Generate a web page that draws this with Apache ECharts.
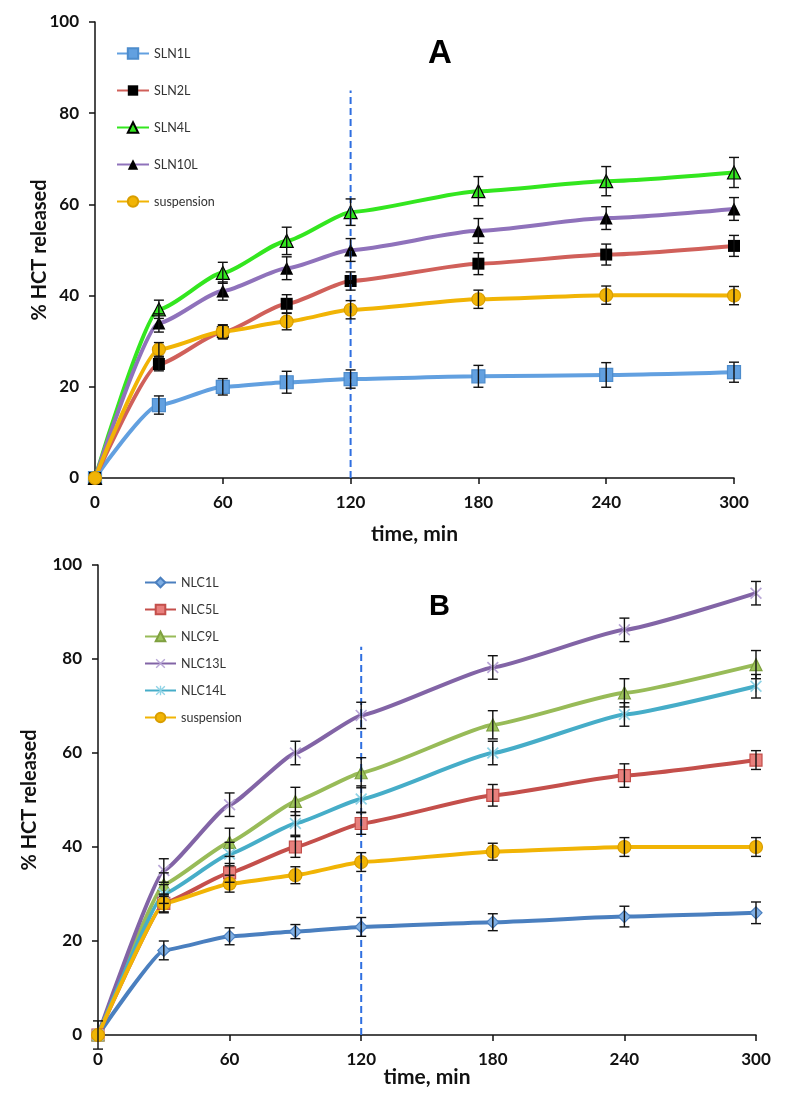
<!DOCTYPE html>
<html>
<head>
<meta charset="utf-8">
<script src="https://cdn.jsdelivr.net/npm/echarts@6/dist/echarts.min.js"></script>
<style>html,body{margin:0;padding:0;background:#fff}#c{width:788px;height:1105px}</style>
</head>
<body>
<div id="c"></div>
<script>
// ---- data ----
const times = [0, 30, 60, 90, 120, 180, 240, 300];
const xTicks = [0, 60, 120, 180, 240, 300];

// Panel A
const namesA = ['SLN1L', 'SLN2L', 'SLN4L', 'SLN10L', 'suspension'];
const SLN1L = [0, 16, 20, 21, 21.7, 22.3, 22.6, 23.2];
const SLN2L = [0, 25, 32, 38.2, 43.2, 47, 49, 50.9];
const SLN4L = [0, 37, 45, 52, 58.3, 62.9, 65.1, 67];
const SLN10L = [0, 34, 41, 46, 50, 54.2, 57, 59];
const suspA = [0, 28.2, 32.1, 34.3, 36.9, 39.2, 40.1, 40];
const errSLN1L = [0, 2, 1.8, 2.4, 2, 2.4, 2.7, 2.2];
const errSLN2L = [0, 1.5, 1.5, 2, 2, 2.4, 2.3, 2.3];
const errSLN4L = [0, 2, 2.3, 3, 2.9, 3.2, 3.2, 3.3];
const errSLN10L = [0, 2, 2, 2.5, 2.5, 2.7, 2.5, 2.5];
const errSuspA = [0, 1.5, 1.5, 1.8, 2, 2, 2, 2];

// Panel B
const namesB = ['NLC1L', 'NLC5L', 'NLC9L', 'NLC13L', 'NLC14L', 'suspension'];
const NLC1L = [0, 18, 21, 22, 23, 24, 25.2, 26];
const NLC5L = [0, 28, 34.5, 40, 45, 51, 55.2, 58.5];
const NLC9L = [0, 32, 41, 49.7, 55.8, 66, 72.8, 78.8];
const NLC13L = [0, 35, 49, 60, 68, 78.2, 86.2, 94];
const NLC14L = [0, 30, 38.5, 45, 50.2, 60, 68.2, 74.2];
const suspB = [0, 28, 32.2, 34, 36.8, 39, 40, 40];
const errNLC1L = [0, 2, 1.8, 1.5, 2, 1.8, 2.2, 2.3];
const errNLC5L = [0, 2, 2, 2.2, 2.3, 2.3, 2.5, 2];
const errNLC9L = [0, 2.5, 3, 3, 3.2, 3, 3, 3];
const errNLC13L = [3, 2.5, 2.5, 2.5, 2.8, 2.5, 2.5, 2.5];
const errNLC14L = [0, 2, 2.5, 2.5, 2.8, 2.5, 2.5, 2.5];
const errSuspB = [0, 1.8, 1.8, 1.8, 2, 1.8, 2, 2];

const cutoffX = 120;
const cutoffTopA = 85;
const cutoffTopB = 82.6;

// ---- helpers ----
const pts = (ys) => times.map((t, i) => [t, ys[i]]);
const errPts = (ys, es) => times.map((t, i) => [t, ys[i], es[i]]);

const FONT = 'Lato';
const X_SHAPE = 'path://M0,1L1,0L5,4L9,0L10,1L6,5L10,9L9,10L5,6L1,10L0,9L4,5Z';
const STAR_SHAPE = 'path://M0,1L1,0L5,4L9,0L10,1L6,5L10,9L9,10L5,6L1,10L0,9L4,5Z M4.3,0L5.7,0L5.7,10L4.3,10Z';

function lineSeries(name, ys, idx, color, symbol, symColor, symBorder, size, smooth) {
  return {
    type: 'line', name: name, data: pts(ys),
    xAxisIndex: idx, yAxisIndex: idx,
    smooth: smooth, smoothMonotone: 'x', symbol: symbol, symbolSize: size,
    lineStyle: { color: color, width: 4 },
    itemStyle: { color: symColor, borderColor: symBorder, borderWidth: symBorder ? 1.2 : 0 },
    z: 3
  };
}
function errSeries(ys, es, idx) {
  return {
    type: 'custom', xAxisIndex: idx, yAxisIndex: idx,
    data: errPts(ys, es), encode: { x: 0, y: 1 }, z: 5, silent: true,
    renderItem: function (params, api) {
      const x = api.value(0), y = api.value(1), e = api.value(2);
      if (!e) return null;
      const t = api.coord([x, y + e]);
      const b = api.coord([x, y - e]);
      const hw = 5;
      const st = { stroke: '#111', lineWidth: 1.4 };
      return {
        type: 'group', children: [
          { type: 'line', shape: { x1: t[0], y1: t[1], x2: b[0], y2: b[1] }, style: st },
          { type: 'line', shape: { x1: t[0] - hw, y1: t[1], x2: t[0] + hw, y2: t[1] }, style: st },
          { type: 'line', shape: { x1: b[0] - hw, y1: b[1], x2: b[0] + hw, y2: b[1] }, style: st }
        ]
      };
    }
  };
}
function cutoffSeries(idx, top) {
  return {
    type: 'line', xAxisIndex: idx, yAxisIndex: idx, data: [[cutoffX, 0], [cutoffX, top]],
    symbol: 'none', silent: true, z: 4,
    lineStyle: { color: '#2f6fe0', width: 2, type: [7, 4] }
  };
}
function xAx(idx, gap) {
  return {
    type: 'value', gridIndex: idx, min: 0, max: 300, interval: 60,
    name: 'time, min', nameLocation: 'middle', nameGap: gap, nameMoveOverlap: false,
    nameTextStyle: { fontFamily: FONT, fontWeight: 'bold', fontSize: 21, color: '#111' },
    axisLine: { show: true, lineStyle: { color: '#111', width: 1.5 } },
    axisTick: { show: true, length: 6, lineStyle: { color: '#111', width: 1.5 } },
    axisLabel: { margin: 16, fontFamily: FONT, fontWeight: 'bold', fontSize: 17, color: '#111',
      formatter: (v) => xTicks.indexOf(v) >= 0 ? String(v) : '' },
    splitLine: { show: false }
  };
}
function yAx(idx, gap) {
  return {
    type: 'value', gridIndex: idx, min: 0, max: 100, interval: 20,
    name: '% HCT released', nameLocation: 'middle', nameGap: gap, nameRotate: 90, nameMoveOverlap: false,
    nameTextStyle: { fontFamily: FONT, fontWeight: 'bold', fontSize: 20, color: '#111' },
    axisLine: { show: true, lineStyle: { color: '#111', width: 1.5 } },
    axisTick: { show: true, length: 6, lineStyle: { color: '#111', width: 1.5 } },
    axisLabel: { margin: 16, fontFamily: FONT, fontWeight: 'bold', fontSize: 17, color: '#111' },
    splitLine: { show: false }
  };
}

const colA = { SLN1L: '#62a0e0', SLN2L: '#d0605a', SLN4L: '#33e61f', SLN10L: '#8f72bb', susp: '#f1b405' };
const colB = { NLC1L: '#4a7fbf', NLC5L: '#c44f4b', NLC9L: '#98bb58', NLC13L: '#8264a6', NLC14L: '#46adc8', susp: '#f1b405' };
const SA = 0.2, SB = 0.12;

const option = {
  animation: false,
  backgroundColor: '#fff',
  title: [
    { text: 'A', left: 423, top: 32, textStyle: { fontFamily: 'Liberation Sans', fontWeight: 'bold', fontSize: 33, color: '#000' } },
    { text: 'B', left: 424, top: 587, textStyle: { fontFamily: 'Liberation Sans', fontWeight: 'bold', fontSize: 29, color: '#000' } }
  ],
  legend: [
    { data: namesA, orient: 'vertical', left: 111, top: 42, itemWidth: 32, itemHeight: 13, itemGap: 24,
      textStyle: { fontFamily: FONT, fontSize: 12.5, color: '#333' }, selectedMode: false },
    { data: namesB.map(n => ({ name: n })), orient: 'vertical', left: 139, top: 571, itemWidth: 31, itemHeight: 12, itemGap: 14,
      textStyle: { fontFamily: FONT, fontSize: 12.5, color: '#333' }, selectedMode: false }
  ],
  grid: [
    { left: 95, top: 22, width: 639, height: 456 },
    { left: 98, top: 565, width: 658, height: 470 }
  ],
  xAxis: [xAx(0, 46), xAx(1, 32)],
  yAxis: [yAx(0, 45), yAx(1, 58)],
  series: [
    cutoffSeries(0, cutoffTopA),
    lineSeries('SLN1L', SLN1L, 0, colA.SLN1L, 'rect', colA.SLN1L, '#4d8ccc', 13, SA),
    lineSeries('SLN2L', SLN2L, 0, colA.SLN2L, 'rect', '#000', null, 12, SA),
    lineSeries('SLN4L', SLN4L, 0, colA.SLN4L, 'triangle', colA.SLN4L, '#000', 13, SA),
    lineSeries('SLN10L', SLN10L, 0, colA.SLN10L, 'triangle', '#000', null, 13, SA),
    lineSeries('suspension', suspA, 0, colA.susp, 'circle', colA.susp, '#d99e00', 13, SA),
    errSeries(SLN1L, errSLN1L, 0),
    errSeries(SLN2L, errSLN2L, 0),
    errSeries(SLN4L, errSLN4L, 0),
    errSeries(SLN10L, errSLN10L, 0),
    errSeries(suspA, errSuspA, 0),

    cutoffSeries(1, cutoffTopB),
    lineSeries('NLC1L', NLC1L, 1, colB.NLC1L, 'diamond', '#7eaee3', '#4a7fbf', 12, SB),
    lineSeries('NLC5L', NLC5L, 1, colB.NLC5L, 'rect', '#e8807d', '#c44f4b', 12, SB),
    lineSeries('NLC9L', NLC9L, 1, colB.NLC9L, 'triangle', '#9dc45c', '#7fa040', 12, SB),
    lineSeries('NLC13L', NLC13L, 1, colB.NLC13L, X_SHAPE, '#b8a6d6', null, 12, SB),
    lineSeries('NLC14L', NLC14L, 1, colB.NLC14L, STAR_SHAPE, '#8fd3e6', null, 12, SB),
    lineSeries('suspension', suspB, 1, colB.susp, 'circle', colB.susp, '#d99e00', 13, SB),
    errSeries(NLC1L, errNLC1L, 1),
    errSeries(NLC5L, errNLC5L, 1),
    errSeries(NLC9L, errNLC9L, 1),
    errSeries(NLC13L, errNLC13L, 1),
    errSeries(NLC14L, errNLC14L, 1),
    errSeries(suspB, errSuspB, 1)
  ]
};

const chart = echarts.init(document.getElementById('c'), null, { renderer: 'canvas' });
chart.setOption(option);
</script>
</body>
</html>
